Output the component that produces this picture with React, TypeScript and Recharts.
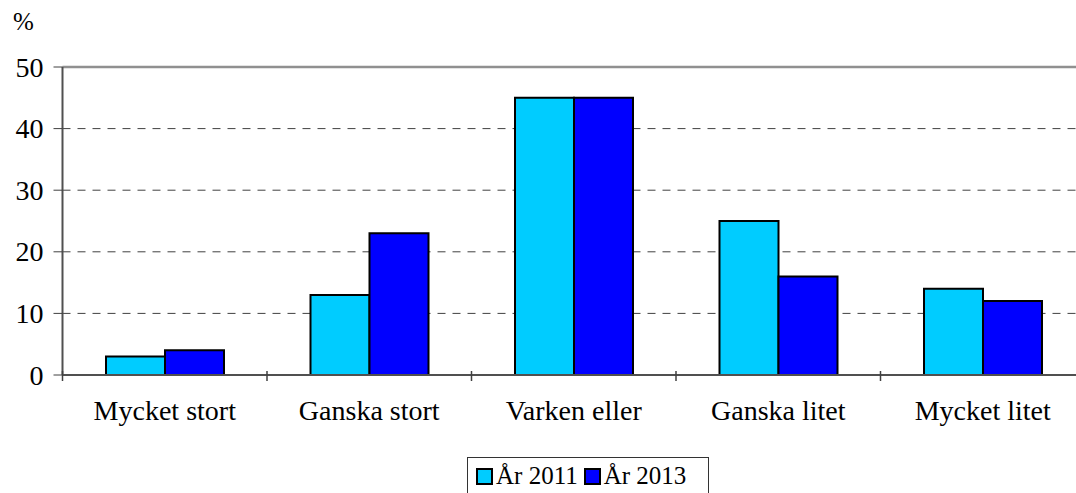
import { BarChart, Bar, XAxis, YAxis, CartesianGrid, ReferenceLine } from 'recharts'

const categories = ['Mycket stort', 'Ganska stort', 'Varken eller', 'Ganska litet', 'Mycket litet']
const year2011 = [3, 13, 45, 25, 14]
const year2013 = [4, 23, 45, 16, 12]
const yTicks = [0, 10, 20, 30, 40, 50]

const data = categories.map((name, i) => ({ name, y2011: year2011[i], y2013: year2013[i] }))

const CHART_W = 1100
const CHART_H = 493
const MARGIN = { top: 67, right: 15, bottom: 88, left: 0 }
const Y_W = 62.5
const HALF_BAND = (CHART_W - MARGIN.left - MARGIN.right - Y_W) / categories.length / 2

const font = '"Liberation Serif", "Times New Roman", serif'

function CategoryTick(props: any) {
  const { x, y, payload } = props
  return (
    <g>
      <line x1={x - HALF_BAND} x2={x - HALF_BAND} y1={y - 12} y2={y - 2} stroke="#404040" strokeWidth={1.5} />
      <text x={x} y={y + 37} textAnchor="middle" fontFamily={font} fontSize={28} fill="#000">
        {payload.value}
      </text>
    </g>
  )
}

function ValueTick(props: any) {
  const { x, y, payload } = props
  return (
    <text x={x} y={y + 9.5} textAnchor="end" fontFamily={font} fontSize={28} fill="#000">
      {payload.value}
    </text>
  )
}

function LegendItem({ color, label }: { color: string; label: string }) {
  return (
    <span style={{ display: 'inline-flex', alignItems: 'center', marginRight: 6 }}>
      <span style={{ width: 13, height: 13, background: color, border: '2px solid #000', display: 'inline-block', marginRight: 3 }} />
      <span>{label}</span>
    </span>
  )
}

export default function App() {
  return (
    <div style={{ position: 'absolute', left: 0, top: 0, width: 1076, height: 493, overflow: 'hidden', background: '#fff' }}>
      <div style={{ position: 'absolute', left: 13, top: 8, fontFamily: font, fontSize: 25 }}>%</div>
      <BarChart width={CHART_W} height={CHART_H} data={data} margin={MARGIN} barCategoryGap={43.5} barGap={0}>
        <CartesianGrid vertical={false} stroke="#404040" strokeDasharray="8 7" />
        <ReferenceLine y={50} stroke="#909090" strokeWidth={2.5} />
        <XAxis
          dataKey="name"
          tick={<CategoryTick />}
          tickLine={false}
          axisLine={{ stroke: '#505050', strokeWidth: 2 }}
          height={30}
          interval={0}
        />
        <YAxis
          domain={[0, 50]}
          ticks={yTicks}
          width={Y_W}
          tickSize={9}
          tickMargin={10}
          tickLine={{ stroke: '#404040' }}
          axisLine={{ stroke: '#505050', strokeWidth: 2 }}
          tick={<ValueTick />}
        />
        <Bar dataKey="y2011" fill="#00CCFF" stroke="#000" strokeWidth={2} isAnimationActive={false} />
        <Bar dataKey="y2013" fill="#0000FF" stroke="#000" strokeWidth={2} isAnimationActive={false} />
      </BarChart>
      <div
        style={{
          position: 'absolute',
          left: 467,
          top: 457,
          width: 242,
          height: 40,
          border: '1px solid #333',
          boxSizing: 'border-box',
          fontFamily: font,
          fontSize: 25,
          display: 'flex',
          alignItems: 'flex-start',
          paddingLeft: 8,
          paddingTop: 4,
          lineHeight: '28px',
        }}
      >
        <LegendItem color="#00CCFF" label="År 2011" />
        <LegendItem color="#0000FF" label="År 2013" />
      </div>
    </div>
  )
}
